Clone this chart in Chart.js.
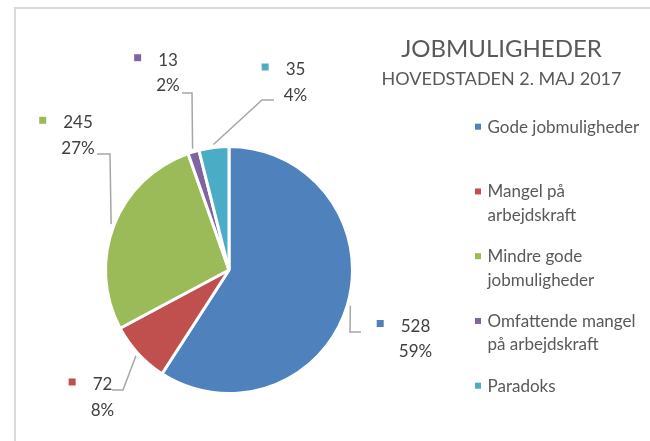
<!DOCTYPE html>
<html><head><meta charset="utf-8">
<script src="https://cdn.jsdelivr.net/npm/chart.js@4"></script>
<style>html,body{margin:0;padding:0;background:#fff}canvas{display:block}</style>
</head><body>
<canvas id="c" width="650" height="441"></canvas>
<script>
const categories = [['Gode jobmuligheder'], ['Mangel på', 'arbejdskraft'], ['Mindre gode', 'jobmuligheder'], ['Omfattende mangel', 'på arbejdskraft'], ['Paradoks']];
const values = [528, 72, 245, 13, 35];
const percentLabels = ['59%', '8%', '27%', '2%', '4%'];
const colors = ['#4F81BD', '#C0504D', '#9BBB59', '#8064A2', '#4BACC6'];
const titleText = 'JOBMULIGHEDER';
const subtitleText = 'HOVEDSTADEN 2. MAJ 2017';

// data-label layout (text centre x, first baseline y, leader end point, elbow x)
const labelLayout = [
  { cx: 415.5, by: 331.5, lx: 361, ly: 332, ex: 350 },
  { cx: 102.5, by: 390, lx: 112, ly: 390, ex: 123 },
  { cx: 78, by: 128.3, lx: 97, ly: 154, ex: 110 },
  { cx: 168, by: 65.7, lx: 182, ly: 93, ex: 192 },
  { cx: 295.5, by: 75, lx: 274, ly: 100, ex: 262 }
];

const FONT = 'Lato, "Open Sans", sans-serif';

const framePlugin = {
  id: 'frame',
  beforeDraw(chart) {
    const ctx = chart.ctx;
    ctx.save();
    ctx.fillStyle = '#ffffff';
    ctx.fillRect(0, 0, chart.width, chart.height);
    ctx.strokeStyle = '#D9D9D9';
    ctx.lineWidth = 2;
    ctx.beginPath();
    ctx.moveTo(15, chart.height);
    ctx.lineTo(15, 8);
    ctx.lineTo(chart.width, 8);
    ctx.stroke();
    ctx.restore();
  }
};

const decorPlugin = {
  id: 'decor',
  afterDraw(chart) {
    const ctx = chart.ctx;
    const meta = chart.getDatasetMeta(0);
    ctx.save();
    // title
    ctx.fillStyle = '#595959';
    ctx.textAlign = 'center';
    ctx.textBaseline = 'alphabetic';
    ctx.font = '24px ' + FONT;
    ctx.fillText(titleText, 501.5, 56.7);
    ctx.font = '18px ' + FONT;
    ctx.fillText(subtitleText, 501.5, 85);

    // leader lines + data labels
    meta.data.forEach((arc, i) => {
      const L = labelLayout[i];
      const mid = (arc.startAngle + arc.endAngle) / 2;
      const rr = arc.outerRadius + 3;
      const sx = arc.x + Math.cos(mid) * rr;
      const sy = arc.y + Math.sin(mid) * rr;
      ctx.strokeStyle = '#A6A6A6';
      ctx.lineWidth = 1.5;
      ctx.beginPath();
      ctx.moveTo(L.lx, L.ly);
      ctx.lineTo(L.ex, L.ly);
      ctx.lineTo(sx, sy);
      ctx.stroke();

      ctx.font = '17px ' + FONT;
      ctx.textAlign = 'center';
      ctx.fillStyle = '#404040';
      const valText = String(chart.data.datasets[0].data[i]);
      ctx.fillText(valText, L.cx, L.by);
      ctx.fillText(percentLabels[i], L.cx, L.by + 25.5);
      const w = ctx.measureText(valText).width;
      ctx.fillStyle = colors[i];
      ctx.fillRect(L.cx - w / 2 - 17 - 7, L.by - 11.5, 7, 7);
    });

    // legend
    const labels = chart.data.labels;
    const startY = 132.7, stepY = 64.75, lineH = 23.5;
    labels.forEach((lines, i) => {
      const by = startY + i * stepY;
      ctx.fillStyle = colors[i];
      ctx.fillRect(475, by - 9, 6, 6);
      ctx.fillStyle = '#595959';
      ctx.font = '17px ' + FONT;
      ctx.textAlign = 'left';
      lines.forEach((t, k) => ctx.fillText(t, 487.5, by + k * lineH));
    });
    ctx.restore();
  }
};

new Chart(document.getElementById('c'), {
  type: 'pie',
  data: {
    labels: categories,
    datasets: [{
      data: values,
      backgroundColor: colors,
      borderColor: '#ffffff',
      borderWidth: 3
    }]
  },
  options: {
    responsive: false,
    animation: false,
    devicePixelRatio: 1,
    layout: { padding: { left: 104, top: 145, right: 296, bottom: 46 } },
    plugins: { legend: { display: false }, tooltip: { enabled: false }, title: { display: false } }
  },
  plugins: [framePlugin, decorPlugin]
});
</script>
</body></html>
